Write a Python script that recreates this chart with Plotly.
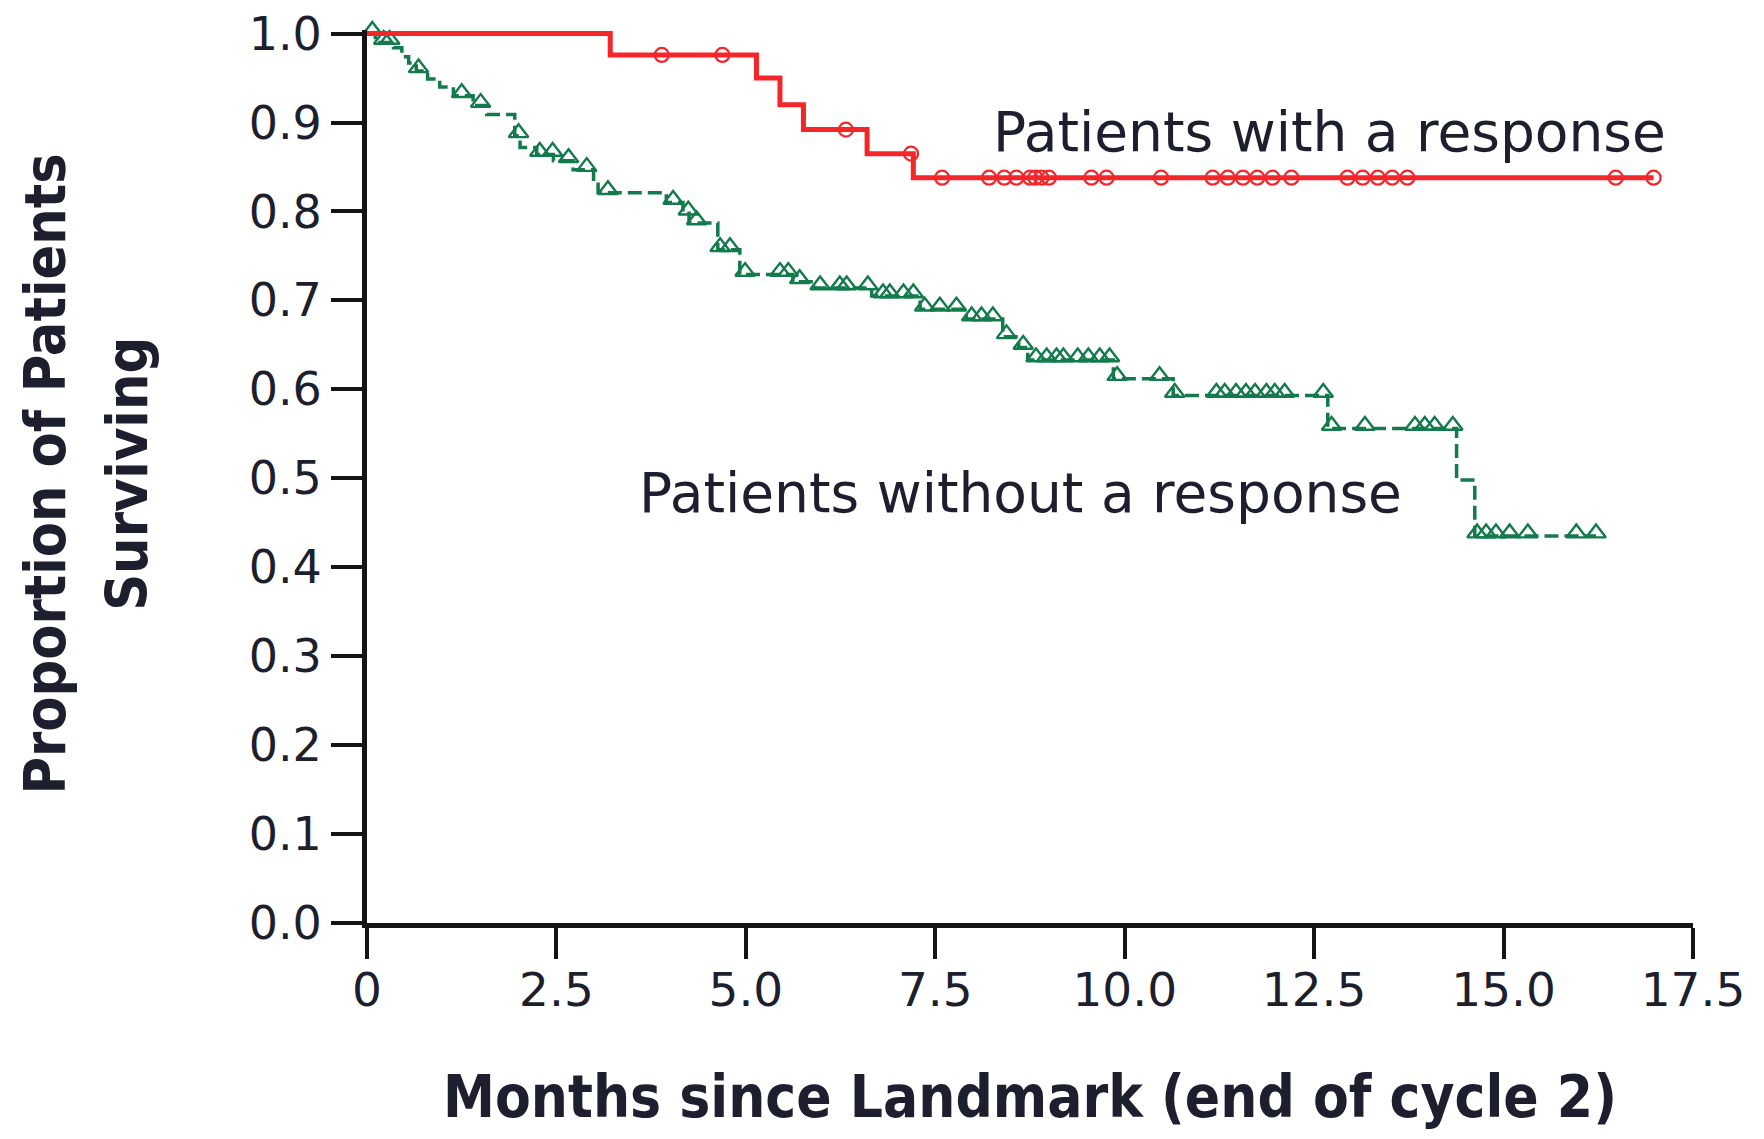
import plotly.graph_objects as go

# ---------------- data ----------------
# Patients with a response (red, Kaplan-Meier)
red_event_months = [3.21, 5.14, 5.45, 5.76, 6.60, 7.21]
red_event_surv = [0.976, 0.950, 0.920, 0.892, 0.865, 0.838]
red_censor_months = [3.89, 4.69, 6.32, 7.18, 7.59, 8.21, 8.41, 8.57, 8.75, 8.82,
                     8.90, 9.00, 9.56, 9.76, 10.48, 11.16, 11.36, 11.56, 11.75,
                     11.95, 12.20, 12.94, 13.14, 13.34, 13.53, 13.73, 16.48, 16.98]
red_last_month = 16.98

# Patients without a response (green, Kaplan-Meier)
green_event_months = [0.11, 0.35, 0.46, 0.55, 0.65, 0.80, 0.96, 1.14, 1.40, 1.58,
                      1.95, 2.02, 2.24, 2.46, 2.72, 2.99, 3.05, 3.95, 4.17, 4.25,
                      4.63, 4.92, 5.62, 5.91, 6.66, 7.30, 7.91, 8.39, 8.60, 8.72,
                      9.85, 10.64, 12.68, 14.38, 14.62]
green_event_surv = [0.990, 0.984, 0.974, 0.967, 0.958, 0.949, 0.940, 0.930, 0.919, 0.909,
                    0.885, 0.872, 0.864, 0.857, 0.847, 0.834, 0.821, 0.810, 0.798, 0.787,
                    0.757, 0.729, 0.721, 0.714, 0.705, 0.690, 0.679, 0.659, 0.647, 0.633,
                    0.612, 0.593, 0.556, 0.498, 0.435]
green_censor_months = [0.07, 0.22, 0.30, 0.68, 1.25, 1.50, 2.00, 2.28, 2.45, 2.66,
                       2.90, 3.18, 4.04, 4.24, 4.35, 4.66, 4.79, 4.99, 5.45, 5.56,
                       5.71, 5.98, 6.24, 6.33, 6.61, 6.81, 6.90, 7.08, 7.21, 7.36,
                       7.56, 7.78, 7.98, 8.11, 8.26, 8.44, 8.66, 8.83, 8.97, 9.10,
                       9.19, 9.38, 9.52, 9.67, 9.80, 9.90, 10.46, 10.66, 11.21, 11.32,
                       11.47, 11.60, 11.72, 11.87, 11.98, 12.11, 12.62, 12.73, 13.17, 13.83,
                       13.96, 14.09, 14.33, 14.65, 14.77, 14.90, 15.08, 15.32, 15.96, 16.22]
green_last_month = 16.22

x_tick_vals = [0, 2.5, 5.0, 7.5, 10.0, 12.5, 15.0, 17.5]
x_tick_text = ["0", "2.5", "5.0", "7.5", "10.0", "12.5", "15.0", "17.5"]
y_tick_vals = [0.0, 0.1, 0.2, 0.3, 0.4, 0.5, 0.6, 0.7, 0.8, 0.9, 1.0]
y_tick_text = ["0.0", "0.1", "0.2", "0.3", "0.4", "0.5", "0.6", "0.7", "0.8", "0.9", "1.0"]

label_with = "Patients with a response"
label_without = "Patients without a response"
x_title = "Months since Landmark (end of cycle 2)"
y_title_lines = ["Proportion of Patients", "Surviving"]

# ---------------- helpers ----------------
def km_at(t, ev_t, ev_s):
    s = 1.0
    for et, es in zip(ev_t, ev_s):
        if t >= et:
            s = es
    return s


def step_xy(ev_t, ev_s, last):
    xs = [0.0] + list(ev_t) + [last]
    ys = [1.0] + list(ev_s) + [ev_s[-1]]
    return xs, ys


RED = "#f5262a"
GREEN = "#137a4c"
TEXT = "#1d1f2e"
AXIS = "#141414"
FONT = "DejaVu Sans, Verdana, sans-serif"
BOLD_FONT = "Liberation Sans Narrow, DejaVu Sans Condensed, Liberation Sans, sans-serif"

fig = go.Figure()

gx, gy = step_xy(green_event_months, green_event_surv, green_last_month)
fig.add_trace(go.Scatter(x=gx, y=gy, mode="lines",
                         line=dict(color=GREEN, width=3.5, dash="14px,6px", shape="hv"),
                         hoverinfo="skip", cliponaxis=False))
# open triangles sitting on the curve (triangle-down rotated 180 deg, pushed up with standoff)
fig.add_trace(go.Scatter(x=green_censor_months,
                         y=[km_at(t, green_event_months, green_event_surv) for t in green_censor_months],
                         mode="markers",
                         marker=dict(symbol="triangle-down-open", angle=180, standoff=3, size=17,
                                     color=GREEN, line=dict(width=2.4, color=GREEN)),
                         cliponaxis=False))

rx, ry = step_xy(red_event_months, red_event_surv, red_last_month)
fig.add_trace(go.Scatter(x=rx, y=ry, mode="lines", line=dict(color=RED, width=5, shape="hv"),
                         hoverinfo="skip", cliponaxis=False))
fig.add_trace(go.Scatter(x=red_censor_months,
                         y=[km_at(t, red_event_months, red_event_surv) for t in red_censor_months],
                         mode="markers",
                         marker=dict(symbol="circle-open", size=14, color=RED, line=dict(width=2.2, color=RED)),
                         cliponaxis=False))

fig.update_layout(
    width=1764, height=1139,
    autosize=False,
    margin=dict(l=367, r=71, t=30, b=216, pad=0),
    paper_bgcolor="white", plot_bgcolor="white",
    showlegend=False,
    font=dict(family=FONT, color=TEXT),
)
fig.update_xaxes(range=[0, 17.5], tickvals=x_tick_vals, ticktext=x_tick_text, automargin=False,
                 showline=True, linecolor=AXIS, linewidth=5, mirror=False,
                 ticks="outside", ticklen=31, tickwidth=3.5, tickcolor=AXIS,
                 ticklabelstandoff=-9,
                 showgrid=False, zeroline=False,
                 tickfont=dict(family=FONT, size=47, color=TEXT))
fig.update_yaxes(range=[0, 1.004], tickvals=y_tick_vals, ticktext=y_tick_text, automargin=False,
                 showline=True, linecolor=AXIS, linewidth=5, mirror=False,
                 ticks="outside", ticklen=31, tickwidth=3.5, tickcolor=AXIS,
                 showgrid=False, zeroline=False,
                 tickfont=dict(family=FONT, size=46, color=TEXT))

ann = []
ann.append(dict(text=label_with, x=12.70, y=0.889, xref="x", yref="y", showarrow=False,
                font=dict(family=FONT, size=55, color=TEXT), xanchor="center", yanchor="middle"))
ann.append(dict(text=label_without, x=8.63, y=0.484, xref="x", yref="y", showarrow=False,
                font=dict(family=FONT, size=55, color=TEXT), xanchor="center", yanchor="middle"))
ann.append(dict(text=x_title, x=0.5, y=-0.195, xref="paper", yref="paper", showarrow=False,
                font=dict(family=BOLD_FONT, size=58, color=TEXT, weight="bold"),
                xanchor="center", yanchor="middle"))
ann.append(dict(text=y_title_lines[0], x=-0.243, y=0.503, xref="paper", yref="paper", showarrow=False,
                textangle=-90, font=dict(family=BOLD_FONT, size=57, color=TEXT, weight="bold"),
                xanchor="center", yanchor="middle"))
ann.append(dict(text=y_title_lines[1], x=-0.181, y=0.503, xref="paper", yref="paper", showarrow=False,
                textangle=-90, font=dict(family=BOLD_FONT, size=57, color=TEXT, weight="bold"),
                xanchor="center", yanchor="middle"))
fig.update_layout(annotations=ann)

fig.write_html("out.html",
               config={"displayModeBar": False},
               post_script="document.body.style.margin='0';document.body.style.overflow='hidden';")
